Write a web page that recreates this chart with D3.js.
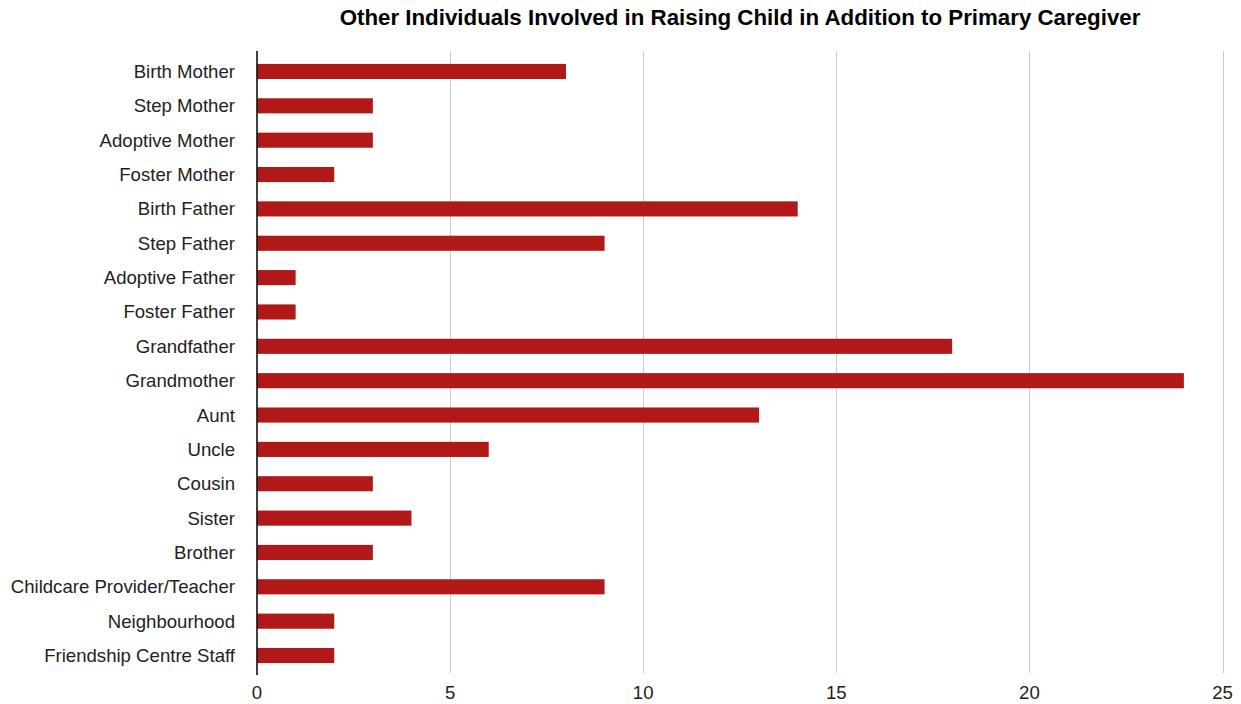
<!DOCTYPE html>
<html>
<head>
<meta charset="utf-8">
<script src="https://cdn.jsdelivr.net/npm/d3@7/dist/d3.min.js"></script>
<style>
  html, body { margin: 0; padding: 0; background: #fff; }
  svg { display: block; font-family: "Liberation Sans", Arial, Helvetica, sans-serif; }
</style>
</head>
<body>
<svg id="chart" width="1241" height="704"></svg>
<script>
const title = "Other Individuals Involved in Raising Child in Addition to Primary Caregiver";

const categories = [
  "Birth Mother", "Step Mother", "Adoptive Mother", "Foster Mother",
  "Birth Father", "Step Father", "Adoptive Father", "Foster Father",
  "Grandfather", "Grandmother", "Aunt", "Uncle", "Cousin", "Sister",
  "Brother", "Childcare Provider/Teacher", "Neighbourhood", "Friendship Centre Staff"
];
const counts = [8, 3, 3, 2, 14, 9, 1, 1, 18, 24, 13, 6, 3, 4, 3, 9, 2, 2];
const xTicks = [0, 5, 10, 15, 20, 25];

const svg = d3.select("#chart");

const x = d3.scaleLinear().domain([0, 25]).range([257, 1222.5]);
const y = d3.scaleBand().domain(categories).range([54.3, 672.7]).paddingInner(0.56).paddingOuter(0.28);

// vertical gridlines
svg.append("g")
  .selectAll("line")
  .data(xTicks.filter(d => d > 0))
  .join("line")
  .attr("x1", d => Math.round(x(d)) + 0.5)
  .attr("x2", d => Math.round(x(d)) + 0.5)
  .attr("y1", 51)
  .attr("y2", 673)
  .attr("stroke", "#cccccc")
  .attr("stroke-width", 1);

// bars
svg.append("g")
  .selectAll("rect")
  .data(categories)
  .join("rect")
  .attr("x", x(0))
  .attr("y", d => y(d))
  .attr("width", (d, i) => x(counts[i]) - x(0))
  .attr("height", y.bandwidth())
  .attr("fill", "#b01917");

// baseline at zero
svg.append("line")
  .attr("x1", x(0)).attr("x2", x(0))
  .attr("y1", 51).attr("y2", 675)
  .attr("stroke", "#111")
  .attr("stroke-width", 1.6);

// category labels
svg.append("g")
  .selectAll("text")
  .data(categories)
  .join("text")
  .attr("x", 235)
  .attr("y", d => y(d) + y.bandwidth() / 2)
  .attr("dy", "0.35em")
  .attr("text-anchor", "end")
  .attr("font-size", 18.6)
  .attr("fill", "#222")
  .text(d => d);

// x tick labels
svg.append("g")
  .selectAll("text")
  .data(xTicks)
  .join("text")
  .attr("x", d => x(d))
  .attr("y", 699)
  .attr("text-anchor", "middle")
  .attr("font-size", 18.6)
  .attr("fill", "#222")
  .text(d => d);

// title
svg.append("text")
  .attr("x", 740)
  .attr("y", 25)
  .attr("text-anchor", "middle")
  .attr("font-size", 22.3)
  .attr("font-weight", "bold")
  .attr("fill", "#000")
  .text(title);
</script>
</body>
</html>
